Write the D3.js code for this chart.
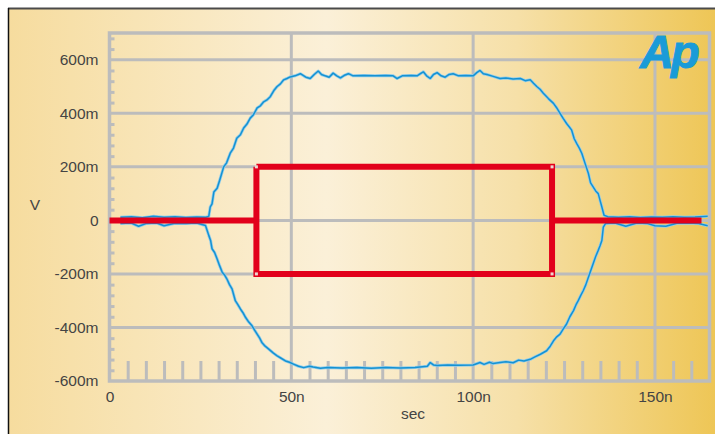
<!DOCTYPE html>
<html>
<head>
<meta charset="utf-8">
<script src="https://cdn.jsdelivr.net/npm/d3@7"></script>
<style>
  body { margin: 0; background: #fff; }
  text { font-family: "Liberation Sans", Arial, sans-serif; }
</style>
</head>
<body>
<div class="chart"></div>
<script>
// tick values / labels
const xMajor = [0, 50, 100, 150];
const xLabels = ["0", "50n", "100n", "150n"];
const yMajor = [-600, -400, -200, 0, 200, 400, 600];
const yLabels = ["-600m", "-400m", "-200m", "0", "200m", "400m", "600m"];

// eye diagram traces, [ns, mV]
const upperTrace = [
  [3, 12], [6, 14], [9, 10], [12, 15], [15, 12], [18, 14], [21, 11], [24, 13], [26.5, 12],
  [27.3, 15], [27.7, 50], [28.2, 62], [28.7, 106], [29.6, 120], [30.3, 150], [31.4, 200],
  [32.2, 215], [33.2, 251], [34.1, 270], [35.0, 307], [36.0, 320], [36.9, 345], [37.8, 360],
  [38.7, 382], [39.6, 395], [40.6, 420], [41.5, 428], [42.4, 443], [43.3, 450], [44.2, 462],
  [45.2, 485], [46.1, 500], [47.0, 510], [47.9, 525], [48.8, 530], [49.7, 536], [51, 540],
  [52.5, 548], [54, 535], [55.2, 530], [56.3, 545], [57.4, 558], [58.3, 545], [59.3, 540],
  [60.4, 535], [61.5, 550], [62.5, 540], [63.5, 532], [64.6, 542], [65.7, 548], [67.0, 540],
  [70, 541], [73, 540], [76, 541], [78.0, 540], [79.1, 530], [80.5, 540], [83, 541],
  [84.6, 540], [85.5, 548], [86.3, 555], [87.2, 540], [88.2, 530], [89.1, 545], [90.1, 552],
  [91.2, 540], [92.3, 535], [93.4, 545], [94.5, 548], [96, 540], [98, 541], [100.0, 540],
  [101, 552], [101.9, 560], [102.8, 548], [103.8, 545], [105.5, 538], [107.4, 530], [109, 532],
  [111.0, 528], [113, 530], [114.3, 522], [115.7, 525], [116.6, 512], [117.5, 500], [118.4, 490],
  [119.3, 475], [120.7, 455], [122.1, 437], [123.0, 420], [123.9, 400], [124.8, 380],
  [125.7, 362], [126.4, 350], [127.1, 337], [127.8, 305], [128.5, 287], [129.2, 270],
  [129.9, 250], [130.8, 212], [131.7, 175], [132.3, 140], [133.0, 125], [133.7, 110],
  [134.4, 100], [135.0, 70], [135.4, 50], [136.0, 19], [137, 14], [140, 12], [143, 14],
  [146, 11], [149, 13], [152, 12], [155, 14], [158, 12], [161, 13], [164.5, 15]
];
const lowerTrace = [
  [3, -12], [6, -10], [8, -22], [10, -12], [13, -10], [15, -20], [18, -11], [21, -12], [24, -10],
  [26.4, -19], [27.3, -56], [27.8, -75], [28.2, -106], [28.9, -120], [29.6, -144], [30.3, -170],
  [31.0, -194], [31.7, -205], [32.3, -219], [33.0, -240], [33.7, -256], [34.6, -300],
  [35.3, -315], [36.0, -331], [36.7, -345], [37.4, -362], [38.3, -380], [39.2, -394],
  [39.9, -410], [40.6, -425], [41.3, -440], [41.9, -456], [42.8, -470], [43.8, -481],
  [45.0, -495], [46.1, -506], [47.2, -515], [48.4, -525], [49.5, -530], [50.6, -537],
  [52, -545], [53.4, -550], [55, -545], [56, -548], [58, -552], [60, -550], [64, -551],
  [68, -550], [72, -552], [76, -550], [80, -551], [84, -550], [87.4, -545], [88.2, -531],
  [89.1, -540], [90.1, -542], [93, -540], [96, -541], [100, -540], [101.9, -531], [103, -538],
  [104.5, -530], [105.5, -535], [107.4, -531], [109, -528], [111, -532], [112.5, -522],
  [114, -525], [115.7, -519], [117, -510], [118.5, -500], [120.2, -487], [121.2, -470],
  [122.1, -450], [123.0, -435], [123.9, -425], [124.8, -405], [125.7, -387], [126.6, -360],
  [127.6, -337], [128.3, -315], [128.9, -300], [129.6, -280], [130.3, -262], [131.0, -240],
  [131.7, -212], [132.4, -185], [133.0, -162], [133.7, -135], [134.4, -112], [134.9, -95],
  [135.4, -75], [135.8, -25], [136.4, -12], [139, -10], [142, -22], [145, -10], [148, -12],
  [150, -20], [153, -22], [156, -11], [159, -10], [162, -12], [164.5, -20]
];

// mask, [ns, mV]
const maskLeft = [[0, 0], [40.4, 0]];
const maskBox = [[40.4, 200], [121.7, 200], [121.7, -200], [40.4, -200], [40.4, 200]];
const maskRight = [[121.7, 0], [162.8, 0]];

// setup chart
const width = 715;
const height = 434;
const svg = d3.select(".chart").append("svg").attr("width", width).attr("height", height);

const x = d3.scaleLinear().domain([0, 165]).range([109.5, 709.5]);
const y = d3.scaleLinear().domain([-600, 700]).range([381, 33]);

// background gradient
const grad = svg.append("defs").append("linearGradient").attr("id", "bg");
grad.append("stop").attr("offset", "0%").attr("stop-color", "#f6dc9e");
grad.append("stop").attr("offset", "45%").attr("stop-color", "#fbf0d8");
grad.append("stop").attr("offset", "72%").attr("stop-color", "#f6e0a8");
grad.append("stop").attr("offset", "100%").attr("stop-color", "#eec656");

svg.append("rect").attr("x", 8).attr("y", 8).attr("width", width - 8).attr("height", height - 8)
  .attr("fill", "url(#bg)");
svg.append("line").attr("x1", 8).attr("x2", width).attr("y1", 8.5).attr("y2", 8.5)
  .attr("stroke", "#4a4a4a").attr("stroke-width", 2);
svg.append("line").attr("x1", 8.5).attr("x2", 8.5).attr("y1", 8).attr("y2", height)
  .attr("stroke", "#111").attr("stroke-width", 1.5);

const gridColor = "#bcbcbc";

// grid
const grid = svg.append("g");
grid.selectAll(".vg").data(xMajor.slice(1)).enter().append("line")
  .attr("x1", (d) => x(d)).attr("x2", (d) => x(d)).attr("y1", y(700)).attr("y2", y(-600))
  .attr("stroke", gridColor).attr("stroke-width", 3);
grid.selectAll(".hg").data(yMajor.slice(1)).enter().append("line")
  .attr("x1", x(0)).attr("x2", x(165)).attr("y1", (d) => y(d)).attr("y2", (d) => y(d))
  .attr("stroke", gridColor).attr("stroke-width", 3);

// minor ticks
const minorX = d3.range(5, 165, 5).filter((d) => d % 50 !== 0);
const minorY = d3.range(-560, 700, 40).filter((d) => d % 200 !== 0);

const bx = svg.append("g").attr("transform", `translate(0,${y(-600)})`)
  .call(d3.axisBottom(x).tickValues(minorX).tickSize(-20).tickFormat(""));
const ly = svg.append("g").attr("transform", `translate(${x(0)},0)`)
  .call(d3.axisLeft(y).tickValues(minorY).tickSize(-5).tickFormat(""));
[bx, ly].forEach((g) => {
  g.select(".domain").remove();
  g.selectAll("line").attr("stroke", gridColor).attr("stroke-width", 3);
});

// frame
svg.append("rect").attr("x", x(0)).attr("y", y(700))
  .attr("width", x(165) - x(0)).attr("height", y(-600) - y(700))
  .attr("fill", "none").attr("stroke", gridColor).attr("stroke-width", 3.5);

// labels
const yAxis = svg.append("g").attr("transform", `translate(${x(0)},0)`)
  .call(d3.axisLeft(y).tickValues(yMajor).tickSize(0).tickPadding(11)
    .tickFormat((d, i) => yLabels[i]));
const xAxis = svg.append("g").attr("transform", `translate(0,${y(-600)})`)
  .call(d3.axisBottom(x).tickValues(xMajor).tickSize(0).tickPadding(10)
    .tickFormat((d, i) => xLabels[i]));
[xAxis, yAxis].forEach((g) => {
  g.select(".domain").remove();
  g.selectAll("text").attr("fill", "#444").style("font-size", "15.5px")
    .style("font-family", "'Liberation Sans', Arial, sans-serif");
});

svg.append("text").attr("x", 35).attr("y", 210).attr("text-anchor", "middle")
  .attr("fill", "#444").style("font-size", "15.5px").text("V");
svg.append("text").attr("x", 413).attr("y", 419).attr("text-anchor", "middle")
  .attr("fill", "#444").style("font-size", "15.5px").text("sec");

const line = d3.line().x((d) => x(d[0])).y((d) => y(d[1]));

// traces
[upperTrace, lowerTrace].forEach((t) => {
  svg.append("path").attr("d", line(t)).attr("fill", "none")
    .attr("stroke", "#93cdea").attr("stroke-width", 3).attr("stroke-linejoin", "round");
  svg.append("path").attr("d", line(t)).attr("fill", "none")
    .attr("stroke", "#1592d2").attr("stroke-width", 1.5).attr("stroke-linejoin", "bevel");
});

// mask on top
[maskLeft, maskBox, maskRight].forEach((m) => {
  svg.append("path").attr("d", line(m)).attr("fill", "none")
    .attr("stroke", "#e2001b").attr("stroke-width", 6).attr("stroke-linejoin", "miter");
});
svg.selectAll(".corner").data(maskBox.slice(0, 4)).enter().append("rect")
  .attr("x", (d) => x(d[0]) - 1.5).attr("y", (d) => y(d[1]) - 1.5)
  .attr("width", 3).attr("height", 3).attr("fill", "#eed6d0");

// logo
svg.append("text").attr("x", 640).attr("y", 68)
  .attr("fill", "#1a9bd8").style("font-size", "47px").style("font-weight", "bold")
  .style("font-style", "italic").attr("letter-spacing", -3)
  .attr("stroke", "#1a9bd8").attr("stroke-width", 1).text("Ap");
</script>
</body>
</html>
